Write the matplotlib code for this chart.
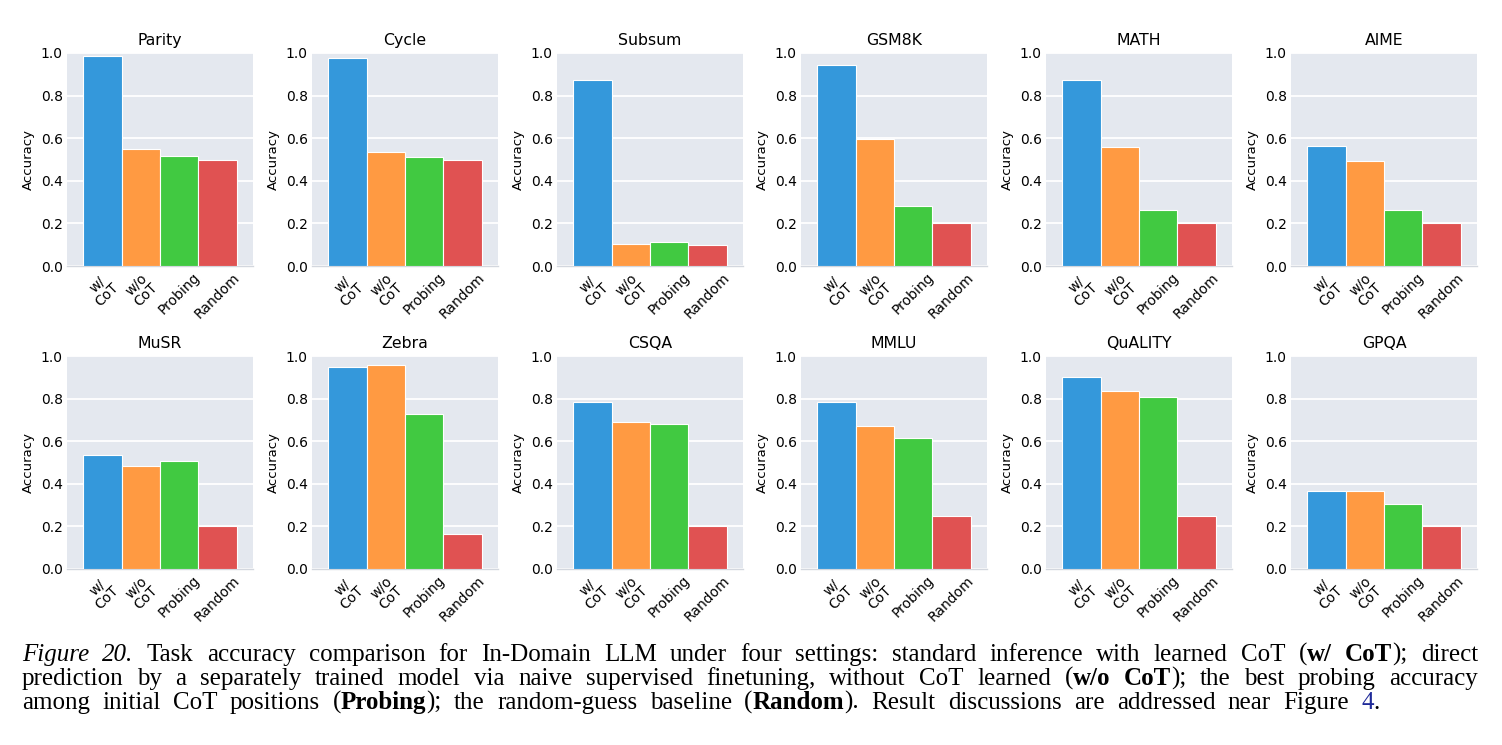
import matplotlib.pyplot as plt

plt.rcParams["font.family"] = ["DejaVu Sans"]

tasks = ["Parity", "Cycle", "Subsum", "GSM8K", "MATH", "AIME",
         "MuSR", "Zebra", "CSQA", "MMLU", "QuALITY", "GPQA"]
settings = ["w/\nCoT", "w/o\nCoT", "Probing", "Random"]

with_cot = [0.985, 0.975, 0.875, 0.945, 0.875, 0.565,
            0.537, 0.950, 0.785, 0.785, 0.900, 0.365]
without_cot = [0.547, 0.535, 0.105, 0.597, 0.557, 0.495,
               0.485, 0.960, 0.690, 0.672, 0.838, 0.368]
probing = [0.516, 0.510, 0.115, 0.283, 0.262, 0.265,
           0.508, 0.730, 0.680, 0.617, 0.808, 0.305]
random_guess = [0.500, 0.500, 0.100, 0.200, 0.200, 0.200,
                0.200, 0.165, 0.200, 0.250, 0.250, 0.200]

colors = ["#3498db", "#ff9a42", "#41c941", "#e05252"]

caption = [
    "__Figure 20.__ Task accuracy comparison for In-Domain LLM under four settings: "
    "standard inference with learned CoT (**w/ CoT**); direct",
    "prediction by a separately trained model via naive supervised finetuning, "
    "without CoT learned (**w/o CoT**); the best probing accuracy",
    "among initial CoT positions (**Probing**); the random-guess baseline "
    "(**Random**). Result discussions are addressed near Figure ^^4^^.",
]

W, H = 1502, 745
fig = plt.figure(figsize=(W / 100, H / 100), dpi=100)

lefts = [67, 312, 557, 801, 1046, 1291]
tops = [53, 356]
aw, ah = 186, 213

for i, task in enumerate(tasks):
    r, c = divmod(i, 6)
    ax = fig.add_axes([lefts[c] / W, 1 - (tops[r] + ah) / H, aw / W, ah / H])
    ax.set_facecolor("#e4e8ef")
    vals = [with_cot[i], without_cot[i], probing[i], random_guess[i]]
    ax.bar(range(4), vals, width=1.0, color=colors, edgecolor="white",
           linewidth=0.8, zorder=3)
    ax.set_xlim(-0.92, 3.92)
    ax.set_ylim(0, 1.0)
    ax.set_yticks([0, 0.2, 0.4, 0.6, 0.8, 1.0])
    ax.set_yticklabels(["0.0", "0.2", "0.4", "0.6", "0.8", "1.0"])
    ax.set_xticks(range(4))
    ax.set_xticklabels(settings, rotation=45, fontsize=10, linespacing=1.0)
    ax.tick_params(length=0, labelsize=10, pad=3)
    ax.grid(axis="y", color="white", linewidth=1.3, zorder=0)
    ax.set_axisbelow(True)
    for name, s in ax.spines.items():
        if name == "bottom":
            s.set_color("#d3d7de")
            s.set_linewidth(1.0)
        else:
            s.set_visible(False)
    ax.set_title(task, fontsize=11.3, pad=5.5)
    ax.set_ylabel("Accuracy", fontsize=9.5, labelpad=4)


def parse(line):
    # split markup into words made of styled runs
    runs = []
    bold = ital = link = False
    buf = ""
    i = 0
    while i < len(line):
        tok = line[i:i + 2]
        if tok in ("**", "__", "^^"):
            if buf:
                runs.append((buf, bold, ital, link))
                buf = ""
            if tok == "**":
                bold = not bold
            elif tok == "__":
                ital = not ital
            else:
                link = not link
            i += 2
            continue
        buf += line[i]
        i += 1
    if buf:
        runs.append((buf, bold, ital, link))
    words = [[]]
    for text, b, it, lk in runs:
        parts = text.split(" ")
        for j, p in enumerate(parts):
            if j > 0:
                words.append([])
            if p:
                words[-1].append((p, b, it, lk))
    return [w for w in words if w]


renderer = fig.canvas.get_renderer()
x0 = 22
line_ends = [1478, 1478, 1380]
baselines = [661, 685, 709]
fs = 18


def make(text, b, it, lk):
    return fig.text(0, 0, text, fontsize=fs, family="Liberation Serif",
                    weight="bold" if b else "normal",
                    style="italic" if it else "normal",
                    color="#1f2a99" if lk else "black", va="baseline")


for li, line in enumerate(caption):
    words = parse(line)
    items = []
    total = 0
    for word in words:
        pieces = []
        for text, b, it, lk in word:
            t = make(text, b, it, lk)
            wd = t.get_window_extent(renderer).width
            pieces.append((t, wd))
        ww = sum(p[1] for p in pieces)
        items.append((pieces, ww))
        total += ww
    gap = (line_ends[li] - x0 - total) / (len(items) - 1)
    x = x0
    for pieces, ww in items:
        px = x
        for t, wd in pieces:
            t.set_position((px / W, 1 - baselines[li] / H))
            px += wd
        x += ww + gap

fig.savefig("out.png", dpi=100)
